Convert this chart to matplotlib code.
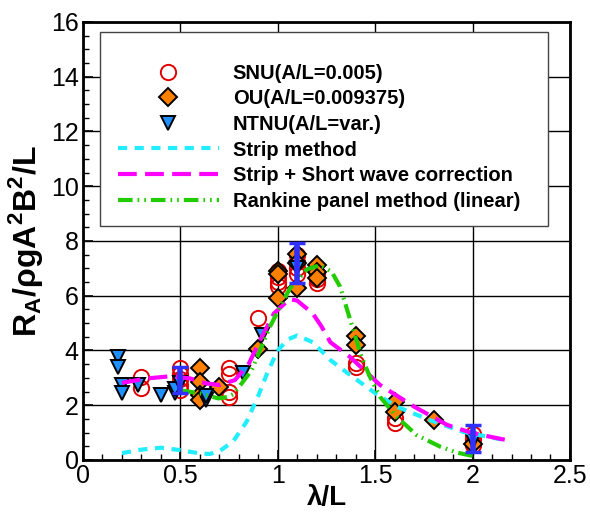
import matplotlib
matplotlib.use('Agg')
import matplotlib.pyplot as plt
from matplotlib.patches import Rectangle
from matplotlib.ticker import MultipleLocator

plt.rcParams['font.family'] = ['Liberation Sans', 'DejaVu Sans']
plt.rcParams['mathtext.fontset'] = 'custom'
plt.rcParams['mathtext.bf'] = 'Liberation Sans:bold'
plt.rcParams['mathtext.rm'] = 'Liberation Sans'

# Experiments: SNU (A/L=0.005)
snu_x = [0.3, 0.3, 0.5, 0.5, 0.5, 0.5, 0.5, 0.75, 0.75, 0.75, 0.75, 0.9,
         1.0, 1.0, 1.0, 1.0, 1.1, 1.1, 1.1, 1.1, 1.2, 1.2, 1.2,
         1.4, 1.4, 1.6, 1.6, 2.0, 2.0, 2.0]
snu_y = [3.04, 2.62, 3.35, 3.15, 2.95, 2.75, 2.55, 3.35, 3.15, 2.5, 2.3, 5.17,
         6.9, 6.7, 6.5, 6.35, 7.5, 7.25, 7.0, 6.8, 6.8, 6.6, 6.45,
         3.53, 3.38, 1.52, 1.36, 0.95, 0.75, 0.55]

# Experiments: OU (A/L=0.009375)
ou_x = [0.6, 0.6, 0.6, 0.6, 0.7, 0.9, 1.0, 1.0, 1.0, 1.1, 1.1, 1.1,
        1.2, 1.2, 1.2, 1.4, 1.4, 1.6, 1.6, 1.8, 2.0]
ou_y = [3.35, 2.86, 2.37, 2.19, 2.68, 4.05, 6.9, 6.8, 5.9, 7.54, 7.2, 6.27,
        7.12, 6.87, 6.63, 4.53, 4.2, 2.13, 1.76, 1.46, 0.6]

# Experiments: NTNU (A/L=var.)
ntnu_x = [0.18, 0.18, 0.2, 0.2, 0.28, 0.4, 0.47, 0.47, 0.5, 0.63, 0.63,
          0.82, 0.92, 1.1, 2.0]
ntnu_y = [3.77, 3.41, 2.74, 2.43, 2.74, 2.37, 2.43, 2.6, 2.8, 2.19, 2.35,
          3.16, 4.56, 7.0, 0.7]

# NTNU error bars
err_x = [0.5, 1.1, 2.0]
err_y = [2.92, 7.19, 0.78]
err_size = [0.46, 0.72, 0.5]

# Strip method
strip_x = [0.2, 0.3, 0.4, 0.5, 0.6, 0.65, 0.7, 0.77, 0.84, 0.9, 0.95, 1.0, 1.05,
           1.1, 1.18, 1.27, 1.35, 1.49, 1.61, 1.78, 1.95, 2.17]
strip_y = [0.25, 0.38, 0.45, 0.36, 0.24, 0.22, 0.32, 0.67, 1.4, 2.35, 3.25, 4.0, 4.4,
           4.55, 4.3, 3.65, 3.22, 2.49, 1.95, 1.46, 1.03, 0.72]

# Strip + short wave correction
sw_x = [0.2, 0.33, 0.45, 0.55, 0.63, 0.7, 0.78, 0.85, 0.91, 0.98, 1.06, 1.1,
        1.18, 1.225, 1.27, 1.37, 1.525, 1.7, 1.87, 2.0, 2.18]
sw_y = [2.82, 2.98, 3.06, 2.98, 2.8, 2.74, 2.92, 3.5, 4.38, 5.35, 5.88, 5.82,
        5.35, 4.87, 4.3, 3.77, 2.74, 1.95, 1.28, 0.98, 0.72]

# Rankine panel method (linear)
rk_x = [0.5, 0.6, 0.695, 0.74, 0.77, 0.815, 0.866, 0.92, 0.96, 1.03, 1.063, 1.148,
        1.217, 1.277, 1.32, 1.362, 1.388, 1.43, 1.473, 1.525, 1.61, 1.713, 1.833,
        1.92, 2.0]
rk_y = [2.55, 2.43, 2.25, 2.3, 2.4, 2.8, 3.28, 4.2, 4.87, 5.85, 6.27, 6.96,
        7.12, 6.87, 6.33, 5.35, 4.74, 3.77, 3.04, 2.31, 1.58, 0.91, 0.49,
        0.27, 0.15]

fig = plt.figure(figsize=(5.9, 5.15), dpi=100)
ax = fig.add_axes([0.1407, 0.1068, 0.8253, 0.8505])

ax.plot(snu_x, snu_y, 'o', ms=11, mfc='none', mec='#e00000', mew=1.4,
        zorder=3, label='SNU(A/L=0.005)')
ax.plot(ou_x, ou_y, 'D', ms=9.5, mfc='#ff8000', mec='black', mew=1.4,
        zorder=3, label='OU(A/L=0.009375)')
ax.plot(ntnu_x, ntnu_y, 'v', ms=10, mfc='#1e90ff', mec='black', mew=1.4,
        zorder=3, label='NTNU(A/L=var.)')

ax.plot(strip_x, strip_y, color='#22eeff', lw=3, ls=(0, (2.2, 1.8)),
        zorder=4, label='Strip method')
ax.plot(sw_x, sw_y, color='#ff00ff', lw=3, ls=(0, (4.5, 2)),
        zorder=4, label='Strip + Short wave correction')
ax.plot(rk_x, rk_y, color='#22cc00', lw=3, ls=(0, (3.5, 1.2, 0.4, 1.2, 0.4, 1.2)),
        zorder=4, label='Rankine panel method (linear)')

ax.errorbar(err_x, err_y, yerr=err_size, fmt='none', ecolor='#3030ff',
            elinewidth=4, capsize=6, capthick=2.5, zorder=5)

ax.set_xlim(0, 2.5)
ax.set_ylim(0, 16)
ax.xaxis.set_major_locator(MultipleLocator(0.5))
ax.xaxis.set_minor_locator(MultipleLocator(0.1))
ax.yaxis.set_major_locator(MultipleLocator(2))
ax.yaxis.set_minor_locator(MultipleLocator(0.5))
ax.set_xticks([0, 0.5, 1, 1.5, 2, 2.5])
ax.set_xticklabels(['0', '0.5', '1', '1.5', '2', '2.5'])
ax.tick_params(which='major', direction='in', length=7, width=1.2,
               labelsize=18, pad=3)
ax.tick_params(which='minor', direction='in', length=4, width=1)
ax.grid(True, which='major', color='black', lw=1)
ax.set_axisbelow(True)
for sp in ax.spines.values():
    sp.set_linewidth(2)

ax.set_xlabel('λ/L', fontsize=20, fontweight='bold', labelpad=-2)
ax.set_ylabel(r'R$_{\mathbf{A}}$/ρgA$^{\mathbf{2}}$B$^{\mathbf{2}}$/L',
              fontsize=23, fontweight='bold', labelpad=4)

# legend box
ax.add_patch(Rectangle((0.035, 0.534), 0.92, 0.4435, transform=ax.transAxes,
                       facecolor='white', edgecolor='#444444', lw=1, zorder=6))
leg = ax.legend(loc='upper left', bbox_to_anchor=(0.072, 0.905), frameon=False,
                borderpad=0, borderaxespad=0, handlelength=5.0, handletextpad=0.7,
                labelspacing=0.33, prop={'weight': 'bold', 'size': 14.5})
leg.set_zorder(7)

plt.savefig('out.png', dpi=100)
